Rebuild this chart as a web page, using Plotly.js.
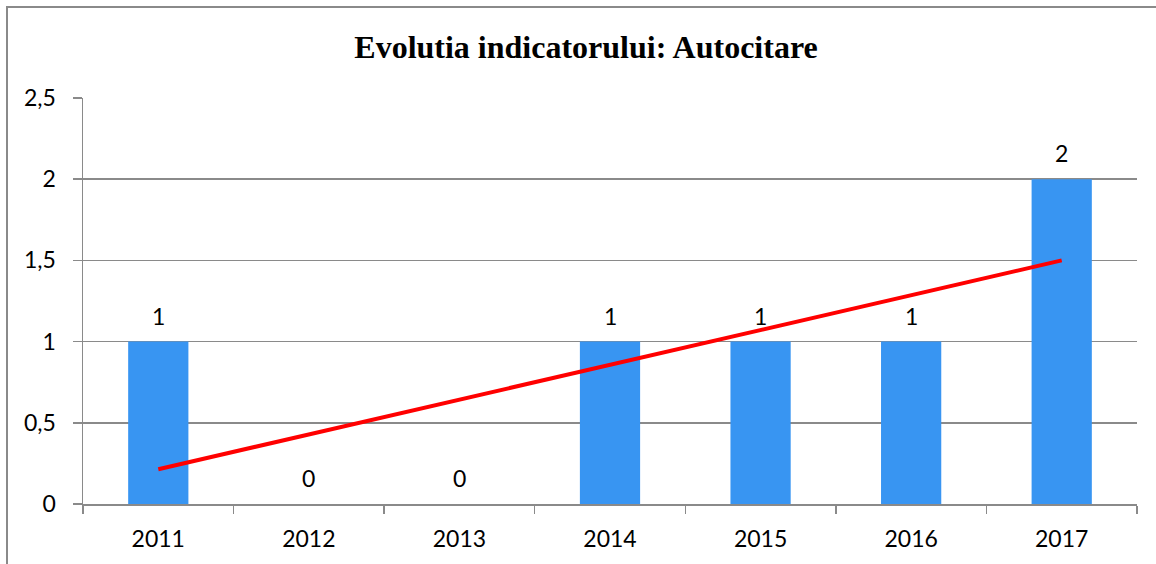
<!DOCTYPE html>
<html>
<head>
<meta charset="utf-8">
<script src="https://cdn.plot.ly/plotly-3.0.1.min.js"></script>
<style>
html,body{margin:0;padding:0;background:#fff;overflow:hidden;}
#frame{position:absolute;left:6px;top:6px;width:1300px;height:700px;border-left:2px solid #8a8a8a;border-top:2px solid #8a8a8a;box-sizing:border-box;pointer-events:none;z-index:5;}
#chart{position:absolute;left:0;top:0;width:1156px;height:564px;}
</style>
</head>
<body>
<div id="chart"></div>
<div id="frame"></div>
<script>
const years = ['2011','2012','2013','2014','2015','2016','2017'];
const values = [1, 0, 0, 1, 1, 1, 2];
const trendYears = ['2011','2017'];
const trendValues = [0.214, 1.5];
const yTickVals = [0, 0.5, 1, 1.5, 2, 2.5];

const labelFont = {family: 'Lato, "Open Sans", sans-serif', size: 23, color: '#000'};

const bars = {
  type: 'bar', x: years, y: values,
  marker: {color: '#3895f2'},
  hoverinfo: 'none'
};
const trend = {
  type: 'scatter', mode: 'lines', x: trendYears, y: trendValues,
  line: {color: '#ff0000', width: 4}, hoverinfo: 'none'
};

const dataLabels = years.map((yr, i) => ({
  x: years.indexOf(yr), y: values[i], xref: 'x', yref: 'y',
  text: String(values[i]), showarrow: false,
  yanchor: 'middle', yshift: 26, font: labelFont
}));

const layout = {
  width: 1156, height: 564,
  margin: {l: 83, r: 19, t: 98, b: 60},
  paper_bgcolor: '#fff', plot_bgcolor: '#fff',
  showlegend: false,
  separators: ',.',
  bargap: 0.6,
  annotations: dataLabels,
  title: {
    text: '<b>Evolutia indicatorului: Autocitare</b>',
    font: {family: '"Liberation Serif", "Times New Roman", serif', size: 32, color: '#000'},
    x: 586/1156, xanchor: 'center', xref: 'container',
    y: 1 - 47/564, yref: 'container', yanchor: 'middle'
  },
  xaxis: {
    type: 'category', categoryarray: years, range: [-0.5, years.length - 0.5],
    showline: true, linecolor: '#8a8a8a', linewidth: 1.5,
    ticks: 'outside', tickson: 'boundaries', ticklen: 8, tickcolor: '#8a8a8a', tickwidth: 1.5,
    showgrid: false, tickfont: labelFont, ticklabelstandoff: 14,
    zeroline: false
  },
  yaxis: {
    range: [0, 2.5], tickvals: yTickVals, tickformat: ',.1~f',
    showline: true, linecolor: '#8a8a8a', linewidth: 1.5,
    ticks: 'outside', ticklen: 9, tickcolor: '#8a8a8a', tickwidth: 1.5,
    showgrid: true, gridcolor: '#8a8a8a', gridwidth: 1.5,
    zeroline: false, tickfont: labelFont, ticklabelstandoff: 12
  }
};

Plotly.newPlot('chart', [bars, trend], layout, {staticPlot: true, displayModeBar: false});
</script>
</body>
</html>
